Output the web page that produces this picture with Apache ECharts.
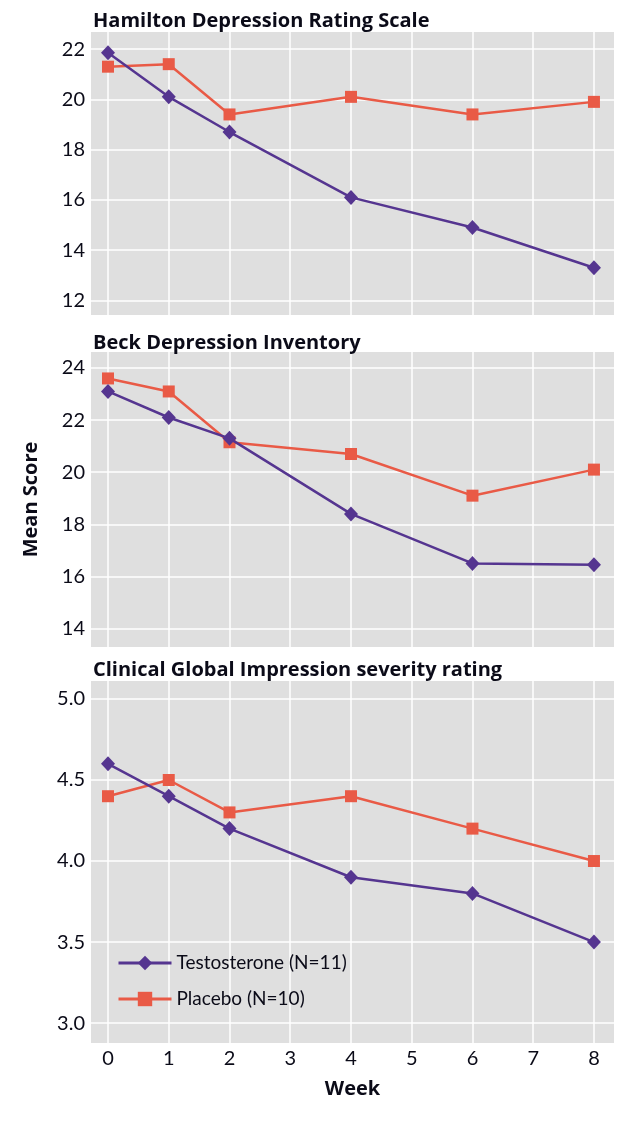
<!DOCTYPE html>
<html>
<head>
<meta charset="utf-8">
<script src="https://cdn.jsdelivr.net/npm/echarts@6/dist/echarts.min.js"></script>
<style>
html,body{margin:0;padding:0;background:#fff;}
#c{width:631px;height:1142px;}
</style>
</head>
<body>
<div id="c"></div>
<script>
var weeks = [0, 1, 2, 4, 6, 8];
var weekTicks = [0, 1, 2, 3, 4, 5, 6, 7, 8];
var seriesNames = ['Testosterone (N=11)', 'Placebo (N=10)'];
var panelTitles = ['Hamilton Depression Rating Scale', 'Beck Depression Inventory', 'Clinical Global Impression severity rating'];

var hamTestosterone = [21.85, 20.1, 18.7, 16.1, 14.9, 13.3];
var hamPlacebo      = [21.3, 21.4, 19.4, 20.1, 19.4, 19.9];
var beckTestosterone = [23.1, 22.1, 21.3, 18.4, 16.5, 16.45];
var beckPlacebo      = [23.6, 23.1, 21.15, 20.7, 19.1, 20.1];
var cgiTestosterone = [4.6, 4.4, 4.2, 3.9, 3.8, 3.5];
var cgiPlacebo      = [4.4, 4.5, 4.3, 4.4, 4.2, 4.0];

var hamTicks = [12, 14, 16, 18, 20, 22];
var beckTicks = [14, 16, 18, 20, 22, 24];
var cgiTicks = [3.0, 3.5, 4.0, 4.5, 5.0];

var purple = '#553590';
var red = '#E95A46';
var textColor = '#0b0b18';
var labelFont = 'Lato, sans-serif';
var titleFont = '"Open Sans", sans-serif';

function pairs(vals) { return weeks.map(function (w, i) { return [w, vals[i]]; }); }

var grids = [
  { left: 91, right: 17, top: 32, height: 283 },
  { left: 91, right: 17, top: 352, height: 295 },
  { left: 91, right: 17, top: 681, height: 362 }
];
var yRanges = [[11.42, 22.68], [13.29, 24.615], [2.877, 5.111]];
var yTicks = [hamTicks, beckTicks, cgiTicks];

var xAxes = grids.map(function (g, i) {
  return {
    type: 'value', gridIndex: i, min: -0.28, max: 8.33,
    axisLine: { show: false },
    axisTick: { show: false, customValues: weekTicks },
    axisLabel: { show: i === 2, customValues: weekTicks, color: textColor, fontFamily: labelFont, fontSize: 20, margin: 6 },
    splitLine: { show: true, lineStyle: { color: '#ffffff', width: 1.5 } },
    name: i === 2 ? 'Week' : '',
    nameLocation: 'middle', nameGap: 36,
    nameTextStyle: { color: textColor, fontFamily: titleFont, fontWeight: 'bold', fontSize: 20 }
  };
});
var yAxes = grids.map(function (g, i) {
  return {
    type: 'value', gridIndex: i, min: yRanges[i][0], max: yRanges[i][1],
    axisLine: { show: false },
    axisTick: { show: false, customValues: yTicks[i] },
    axisLabel: {
      customValues: yTicks[i], color: textColor, fontFamily: labelFont, fontSize: 20, margin: 6,
      formatter: function (v) { return i === 2 ? v.toFixed(1) : String(v); }
    },
    splitLine: { show: true, lineStyle: { color: '#ffffff', width: 1.5 } },
    name: i === 1 ? 'Mean Score' : '',
    nameLocation: 'middle', nameGap: 50,
    nameTextStyle: { color: textColor, fontFamily: titleFont, fontWeight: 'bold', fontSize: 20 }
  };
});

var data = [[hamTestosterone, hamPlacebo], [beckTestosterone, beckPlacebo], [cgiTestosterone, cgiPlacebo]];
var series = [];
data.forEach(function (pair, i) {
  series.push({
    name: seriesNames[0], type: 'line', xAxisIndex: i, yAxisIndex: i,
    data: pairs(pair[0]), symbol: 'diamond', symbolSize: [14, 15],
    lineStyle: { color: purple, width: 2.5 }, itemStyle: { color: purple }, z: 3, animation: false
  });
  series.push({
    name: seriesNames[1], type: 'line', xAxisIndex: i, yAxisIndex: i,
    data: pairs(pair[1]), symbol: 'rect', symbolSize: 12,
    lineStyle: { color: red, width: 2.5 }, itemStyle: { color: red }, z: 2, animation: false
  });
});

var option = {
  backgroundColor: '#ffffff',
  animation: false,
  title: panelTitles.map(function (t, i) {
    return { text: t, left: 88, top: [6, 328, 655][i],
      textStyle: { color: textColor, fontFamily: titleFont, fontWeight: 'bold', fontSize: 20 } };
  }),
  legend: {
    orient: 'vertical', left: 112, top: 947,
    itemWidth: 53, itemHeight: 18, itemGap: 14,
    textStyle: { color: textColor, fontFamily: labelFont, fontSize: 19, lineHeight: 22 },
    data: seriesNames.map(function (n) { return { name: n, lineStyle: { width: 3 } }; })
  },
  grid: grids.map(function (g) { return Object.assign({ show: true, backgroundColor: '#dfdfdf', borderWidth: 0 }, g); }),
  xAxis: xAxes,
  yAxis: yAxes,
  series: series
};

var chart = echarts.init(document.getElementById('c'), null, { renderer: 'canvas' });
chart.setOption(option);
</script>
</body>
</html>
